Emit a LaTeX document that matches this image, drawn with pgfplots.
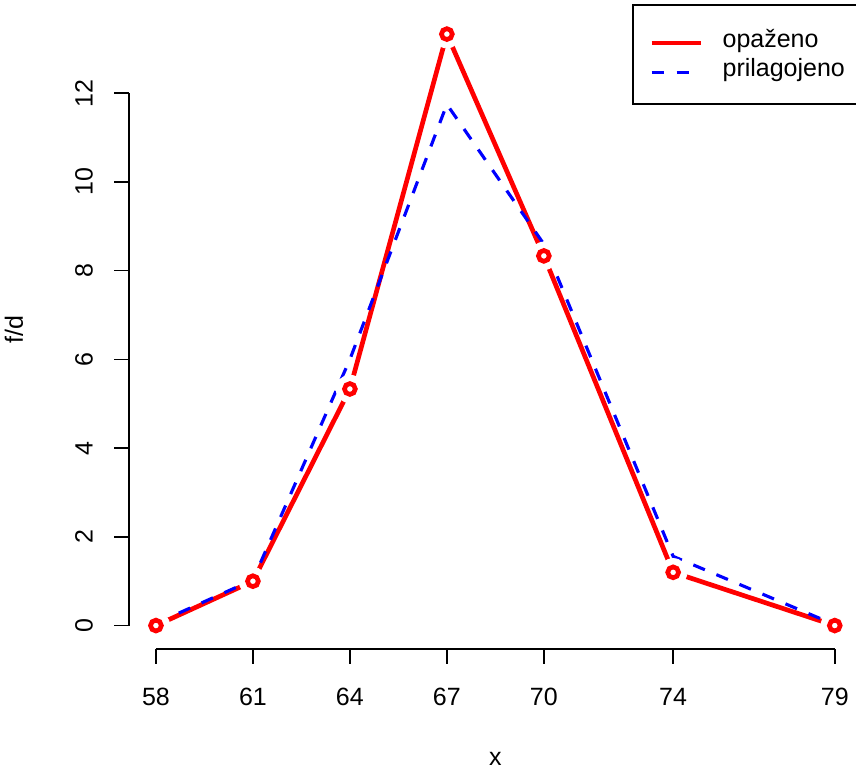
\documentclass[12pt,border=0pt]{standalone}
\usepackage{pgfplots}
\pgfplotsset{compat=1.18}
\usepackage{fontspec}
\setmainfont{Liberation Sans}
\pgfplotstableread{
x y
58 0
61 1
64 5.3333
67 13.3333
70 8.3333
74 1.2
79 0
}\observed
\pgfplotstableread{
x y
58 0.05
61 1.03
64 6.0
67 11.75
70 8.6
74 1.56
79 0.02
}\fitted
\begin{document}
\begin{tikzpicture}
\useasboundingbox (-61.82pt,-57.5pt) rectangle (349.06pt,311.62pt);
\begin{axis}[
  at={(0,0)}, anchor=south west,
  scale only axis, width=351.9pt, height=306.6pt,
  xmin=57.16, xmax=79.84, ymin=-0.53333, ymax=13.86667,
  clip=false,
  axis x line*=bottom, axis y line*=left,
  axis line style={draw=none},
  xtick={58,61,64,67,70,74,79},
  ytick={0,2,4,6,8,10,12},
  tick align=outside,
  major tick length=6.9pt,
  tick style={black, line width=0.75pt},
  /pgf/number format/assume math mode=true,
  tick label style={font=\fontsize{12}{14.4}\selectfont},
  xticklabel style={anchor=north, inner sep=0pt},
  yticklabel style={rotate=90, anchor=base, inner sep=0pt},
  xticklabel shift=11.5pt,
  yticklabel shift=10.4pt,
  label style={font=\fontsize{12}{14.4}\selectfont},
  xlabel={x},
  ylabel={f/d},
  xlabel style={at={(axis description cs:0.5,-0.1815)}, anchor=base, inner sep=0pt},
  ylabel style={at={(axis description cs:-0.1445,0.5)}, anchor=base, inner sep=0pt},
  legend style={at={(axis description cs:0.6863,1.0095)}, anchor=north west,
    draw=black, line width=0.75pt, fill=white,
    font=\fontsize{12}{14.4}\selectfont,
    inner xsep=8pt, inner ysep=9.4pt, row sep=-0.5pt,
    cells={anchor=west},
    /tikz/every odd column/.append style={column sep=7.4pt}},
  legend image code/.code={\draw[#1] (0pt,-1.5pt) -- (23.5pt,-1.5pt);},
]
% axis lines as in R
\draw[line width=0.75pt] (axis cs:58,-0.53333) -- (axis cs:79,-0.53333);
\draw[line width=0.75pt] (axis cs:57.16,0) -- (axis cs:57.16,12);
% observed line
\addplot[red, line width=2.25pt, line join=round, no marks, forget plot] table {\observed};
% gaps around the points (type = "b")
\addplot[white, only marks, mark=*, mark size=6.6pt, mark options={draw=white, fill=white}, forget plot] table {\observed};
\addplot[red, only marks, mark=o, mark size=2.6pt, mark options={draw=red, line width=2.25pt}, forget plot] table {\observed};
% fitted line
\addplot[blue, line width=1.5pt, dash pattern=on 6pt off 6pt, no marks, forget plot] table {\fitted};
\addlegendimage{red, line width=2.25pt}
\addlegendentry{opaženo}
\addlegendimage{blue, line width=1.5pt, dash pattern=on 6pt off 6pt}
\addlegendentry{prilagojeno\hspace*{10pt}}
\end{axis}
\end{tikzpicture}
\end{document}
